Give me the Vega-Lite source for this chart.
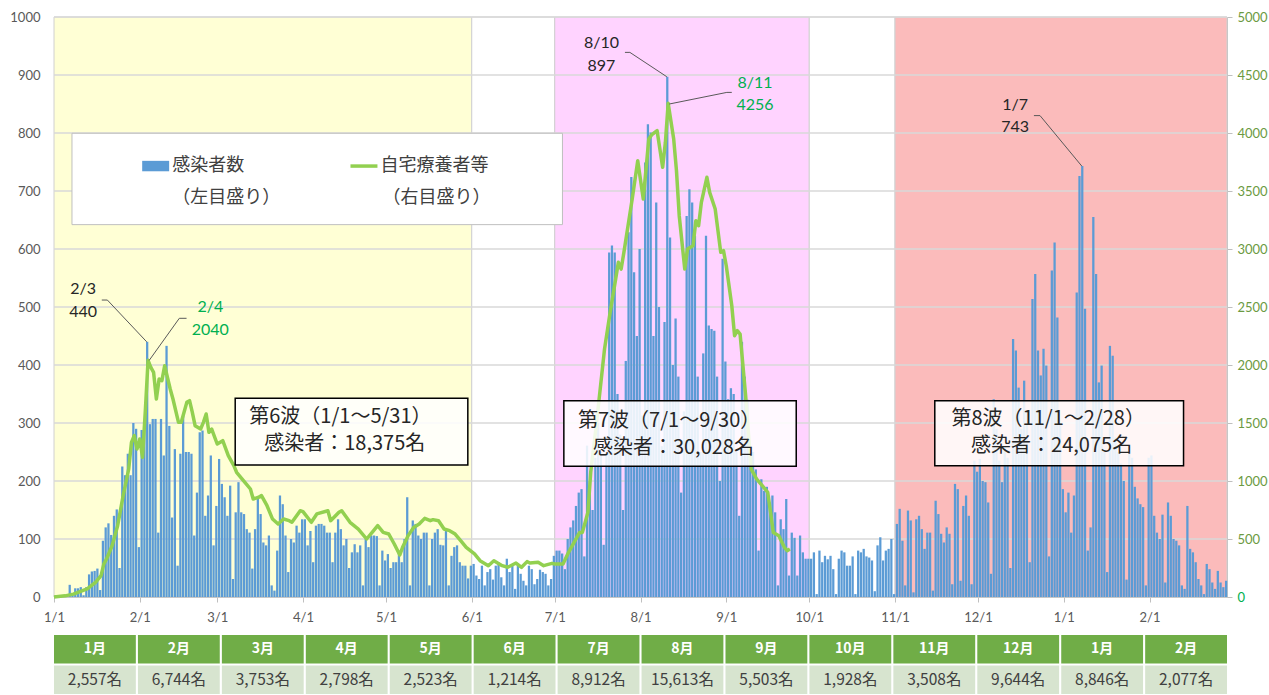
{
"$schema": "https://vega.github.io/schema/vega-lite/v6.json",
"background": "#ffffff",
"padding": {"left": 9, "top": 11, "right": 0, "bottom": 0},
"bounds": "flush",
"spacing": 38,
"resolve": {"scale": {"x": "independent", "y": "independent", "color": "independent"}},
"config": {
  "view": {"stroke": null},
  "axis": {"labelFont": "Lato", "labelFontSize": 13, "labelColor": "#595959", "domainColor": "#BFBFBF", "tickColor": "#BFBFBF", "grid": false}
},
"datasets": {
  "bands": [
    {"start": "2022-01-01", "end": "2022-06-01", "kind": "w6"},
    {"start": "2022-06-01", "end": "2022-07-01", "kind": "gap"},
    {"start": "2022-07-01", "end": "2022-10-01", "kind": "w7"},
    {"start": "2022-10-01", "end": "2022-11-01", "kind": "gap"},
    {"start": "2022-11-01", "end": "2023-03-01", "kind": "w8"}
  ],
  "grid": [{"g": 100}, {"g": 200}, {"g": 300}, {"g": 400}, {"g": 500}, {"g": 600}, {"g": 700}, {"g": 800}, {"g": 900}, {"g": 1000}],
  "daily": [
{"d":"2022-01-01","n":3},{"d":"2022-01-02","n":1},{"d":"2022-01-03","n":1},{"d":"2022-01-04","n":3},{"d":"2022-01-05","n":5},{"d":"2022-01-06","n":21},{"d":"2022-01-07","n":4},{"d":"2022-01-08","n":15},{"d":"2022-01-09","n":15},{"d":"2022-01-10","n":17},{"d":"2022-01-11","n":3},{"d":"2022-01-12","n":17},{"d":"2022-01-13","n":39},{"d":"2022-01-14","n":44},{"d":"2022-01-15","n":45},{"d":"2022-01-16","n":49},{"d":"2022-01-17","n":12},{"d":"2022-01-18","n":97},{"d":"2022-01-19","n":120},{"d":"2022-01-20","n":127},{"d":"2022-01-21","n":107},{"d":"2022-01-22","n":140},{"d":"2022-01-23","n":151},{"d":"2022-01-24","n":50},{"d":"2022-01-25","n":225},{"d":"2022-01-26","n":210},{"d":"2022-01-27","n":247},{"d":"2022-01-28","n":210},{"d":"2022-01-29","n":300},{"d":"2022-01-30","n":290},{"d":"2022-01-31","n":86},
{"d":"2022-02-01","n":288},{"d":"2022-02-02","n":298},{"d":"2022-02-03","n":440},{"d":"2022-02-04","n":298},{"d":"2022-02-05","n":307},{"d":"2022-02-06","n":307},{"d":"2022-02-07","n":111},{"d":"2022-02-08","n":307},{"d":"2022-02-09","n":244},{"d":"2022-02-10","n":433},{"d":"2022-02-11","n":295},{"d":"2022-02-12","n":137},{"d":"2022-02-13","n":255},{"d":"2022-02-14","n":54},{"d":"2022-02-15","n":247},{"d":"2022-02-16","n":313},{"d":"2022-02-17","n":250},{"d":"2022-02-18","n":250},{"d":"2022-02-19","n":247},{"d":"2022-02-20","n":106},{"d":"2022-02-21","n":180},{"d":"2022-02-22","n":284},{"d":"2022-02-23","n":287},{"d":"2022-02-24","n":140},{"d":"2022-02-25","n":175},{"d":"2022-02-26","n":244},{"d":"2022-02-27","n":89},{"d":"2022-02-28","n":157},
{"d":"2022-03-01","n":238},{"d":"2022-03-02","n":195},{"d":"2022-03-03","n":172},{"d":"2022-03-04","n":140},{"d":"2022-03-05","n":192},{"d":"2022-03-06","n":31},{"d":"2022-03-07","n":146},{"d":"2022-03-08","n":198},{"d":"2022-03-09","n":146},{"d":"2022-03-10","n":143},{"d":"2022-03-11","n":117},{"d":"2022-03-12","n":111},{"d":"2022-03-13","n":49},{"d":"2022-03-14","n":117},{"d":"2022-03-15","n":169},{"d":"2022-03-16","n":143},{"d":"2022-03-17","n":94},{"d":"2022-03-18","n":89},{"d":"2022-03-19","n":106},{"d":"2022-03-20","n":20},{"d":"2022-03-21","n":11},{"d":"2022-03-22","n":80},{"d":"2022-03-23","n":175},{"d":"2022-03-24","n":160},{"d":"2022-03-25","n":106},{"d":"2022-03-26","n":43},{"d":"2022-03-27","n":100},{"d":"2022-03-28","n":94},{"d":"2022-03-29","n":123},{"d":"2022-03-30","n":111},{"d":"2022-03-31","n":134},
{"d":"2022-04-01","n":134},{"d":"2022-04-02","n":89},{"d":"2022-04-03","n":114},{"d":"2022-04-04","n":60},{"d":"2022-04-05","n":123},{"d":"2022-04-06","n":126},{"d":"2022-04-07","n":126},{"d":"2022-04-08","n":123},{"d":"2022-04-09","n":111},{"d":"2022-04-10","n":111},{"d":"2022-04-11","n":60},{"d":"2022-04-12","n":111},{"d":"2022-04-13","n":134},{"d":"2022-04-14","n":117},{"d":"2022-04-15","n":89},{"d":"2022-04-16","n":100},{"d":"2022-04-17","n":50},{"d":"2022-04-18","n":77},{"d":"2022-04-19","n":91},{"d":"2022-04-20","n":77},{"d":"2022-04-21","n":89},{"d":"2022-04-22","n":20},{"d":"2022-04-23","n":100},{"d":"2022-04-24","n":86},{"d":"2022-04-25","n":106},{"d":"2022-04-26","n":106},{"d":"2022-04-27","n":105},{"d":"2022-04-28","n":20},{"d":"2022-04-29","n":80},{"d":"2022-04-30","n":63},
{"d":"2022-05-01","n":74},{"d":"2022-05-02","n":50},{"d":"2022-05-03","n":60},{"d":"2022-05-04","n":60},{"d":"2022-05-05","n":77},{"d":"2022-05-06","n":60},{"d":"2022-05-07","n":100},{"d":"2022-05-08","n":172},{"d":"2022-05-09","n":20},{"d":"2022-05-10","n":132},{"d":"2022-05-11","n":126},{"d":"2022-05-12","n":106},{"d":"2022-05-13","n":100},{"d":"2022-05-14","n":111},{"d":"2022-05-15","n":111},{"d":"2022-05-16","n":20},{"d":"2022-05-17","n":100},{"d":"2022-05-18","n":111},{"d":"2022-05-19","n":117},{"d":"2022-05-20","n":90},{"d":"2022-05-21","n":89},{"d":"2022-05-22","n":117},{"d":"2022-05-23","n":20},{"d":"2022-05-24","n":71},{"d":"2022-05-25","n":86},{"d":"2022-05-26","n":89},{"d":"2022-05-27","n":60},{"d":"2022-05-28","n":54},{"d":"2022-05-29","n":54},{"d":"2022-05-30","n":32},{"d":"2022-05-31","n":54},
{"d":"2022-06-01","n":57},{"d":"2022-06-02","n":37},{"d":"2022-06-03","n":31},{"d":"2022-06-04","n":54},{"d":"2022-06-05","n":20},{"d":"2022-06-06","n":43},{"d":"2022-06-07","n":48},{"d":"2022-06-08","n":30},{"d":"2022-06-09","n":54},{"d":"2022-06-10","n":60},{"d":"2022-06-11","n":34},{"d":"2022-06-12","n":20},{"d":"2022-06-13","n":66},{"d":"2022-06-14","n":43},{"d":"2022-06-15","n":54},{"d":"2022-06-16","n":14},{"d":"2022-06-17","n":54},{"d":"2022-06-18","n":40},{"d":"2022-06-19","n":28},{"d":"2022-06-20","n":20},{"d":"2022-06-21","n":54},{"d":"2022-06-22","n":48},{"d":"2022-06-23","n":22},{"d":"2022-06-24","n":31},{"d":"2022-06-25","n":47},{"d":"2022-06-26","n":43},{"d":"2022-06-27","n":40},{"d":"2022-06-28","n":20},{"d":"2022-06-29","n":31},{"d":"2022-06-30","n":71},
{"d":"2022-07-01","n":80},{"d":"2022-07-02","n":80},{"d":"2022-07-03","n":75},{"d":"2022-07-04","n":48},{"d":"2022-07-05","n":100},{"d":"2022-07-06","n":120},{"d":"2022-07-07","n":132},{"d":"2022-07-08","n":157},{"d":"2022-07-09","n":180},{"d":"2022-07-10","n":186},{"d":"2022-07-11","n":70},{"d":"2022-07-12","n":261},{"d":"2022-07-13","n":200},{"d":"2022-07-14","n":150},{"d":"2022-07-15","n":240},{"d":"2022-07-16","n":300},{"d":"2022-07-17","n":250},{"d":"2022-07-18","n":90},{"d":"2022-07-19","n":250},{"d":"2022-07-20","n":594},{"d":"2022-07-21","n":606},{"d":"2022-07-22","n":594},{"d":"2022-07-23","n":350},{"d":"2022-07-24","n":280},{"d":"2022-07-25","n":150},{"d":"2022-07-26","n":407},{"d":"2022-07-27","n":629},{"d":"2022-07-28","n":724},{"d":"2022-07-29","n":560},{"d":"2022-07-30","n":450},{"d":"2022-07-31","n":600},
{"d":"2022-08-01","n":313},{"d":"2022-08-02","n":749},{"d":"2022-08-03","n":815},{"d":"2022-08-04","n":801},{"d":"2022-08-05","n":450},{"d":"2022-08-06","n":680},{"d":"2022-08-07","n":500},{"d":"2022-08-08","n":260},{"d":"2022-08-09","n":474},{"d":"2022-08-10","n":897},{"d":"2022-08-11","n":620},{"d":"2022-08-12","n":400},{"d":"2022-08-13","n":480},{"d":"2022-08-14","n":380},{"d":"2022-08-15","n":180},{"d":"2022-08-16","n":320},{"d":"2022-08-17","n":657},{"d":"2022-08-18","n":703},{"d":"2022-08-19","n":680},{"d":"2022-08-20","n":623},{"d":"2022-08-21","n":380},{"d":"2022-08-22","n":250},{"d":"2022-08-23","n":420},{"d":"2022-08-24","n":623},{"d":"2022-08-25","n":468},{"d":"2022-08-26","n":462},{"d":"2022-08-27","n":459},{"d":"2022-08-28","n":380},{"d":"2022-08-29","n":200},{"d":"2022-08-30","n":583},{"d":"2022-08-31","n":406},
{"d":"2022-09-01","n":341},{"d":"2022-09-02","n":360},{"d":"2022-09-03","n":350},{"d":"2022-09-04","n":250},{"d":"2022-09-05","n":140},{"d":"2022-09-06","n":440},{"d":"2022-09-07","n":380},{"d":"2022-09-08","n":340},{"d":"2022-09-09","n":260},{"d":"2022-09-10","n":250},{"d":"2022-09-11","n":220},{"d":"2022-09-12","n":80},{"d":"2022-09-13","n":203},{"d":"2022-09-14","n":183},{"d":"2022-09-15","n":190},{"d":"2022-09-16","n":163},{"d":"2022-09-17","n":175},{"d":"2022-09-18","n":146},{"d":"2022-09-19","n":20},{"d":"2022-09-20","n":134},{"d":"2022-09-21","n":117},{"d":"2022-09-22","n":169},{"d":"2022-09-23","n":37},{"d":"2022-09-24","n":111},{"d":"2022-09-25","n":102},{"d":"2022-09-26","n":37},{"d":"2022-09-27","n":106},{"d":"2022-09-28","n":77},{"d":"2022-09-29","n":66},{"d":"2022-09-30","n":66},
{"d":"2022-10-01","n":66},{"d":"2022-10-02","n":77},{"d":"2022-10-03","n":5},{"d":"2022-10-04","n":80},{"d":"2022-10-05","n":60},{"d":"2022-10-06","n":71},{"d":"2022-10-07","n":65},{"d":"2022-10-08","n":71},{"d":"2022-10-09","n":48},{"d":"2022-10-10","n":5},{"d":"2022-10-11","n":66},{"d":"2022-10-12","n":80},{"d":"2022-10-13","n":77},{"d":"2022-10-14","n":54},{"d":"2022-10-15","n":54},{"d":"2022-10-16","n":70},{"d":"2022-10-17","n":5},{"d":"2022-10-18","n":80},{"d":"2022-10-19","n":77},{"d":"2022-10-20","n":83},{"d":"2022-10-21","n":70},{"d":"2022-10-22","n":68},{"d":"2022-10-23","n":63},{"d":"2022-10-24","n":10},{"d":"2022-10-25","n":89},{"d":"2022-10-26","n":103},{"d":"2022-10-27","n":63},{"d":"2022-10-28","n":80},{"d":"2022-10-29","n":83},{"d":"2022-10-30","n":100},{"d":"2022-10-31","n":5},
{"d":"2022-11-01","n":126},{"d":"2022-11-02","n":152},{"d":"2022-11-03","n":97},{"d":"2022-11-04","n":20},{"d":"2022-11-05","n":149},{"d":"2022-11-06","n":132},{"d":"2022-11-07","n":8},{"d":"2022-11-08","n":134},{"d":"2022-11-09","n":140},{"d":"2022-11-10","n":117},{"d":"2022-11-11","n":83},{"d":"2022-11-12","n":111},{"d":"2022-11-13","n":111},{"d":"2022-11-14","n":11},{"d":"2022-11-15","n":166},{"d":"2022-11-16","n":143},{"d":"2022-11-17","n":109},{"d":"2022-11-18","n":94},{"d":"2022-11-19","n":120},{"d":"2022-11-20","n":109},{"d":"2022-11-21","n":22},{"d":"2022-11-22","n":195},{"d":"2022-11-23","n":186},{"d":"2022-11-24","n":28},{"d":"2022-11-25","n":157},{"d":"2022-11-26","n":175},{"d":"2022-11-27","n":140},{"d":"2022-11-28","n":22},{"d":"2022-11-29","n":235},{"d":"2022-11-30","n":216},
{"d":"2022-12-01","n":238},{"d":"2022-12-02","n":200},{"d":"2022-12-03","n":198},{"d":"2022-12-04","n":163},{"d":"2022-12-05","n":40},{"d":"2022-12-06","n":341},{"d":"2022-12-07","n":290},{"d":"2022-12-08","n":235},{"d":"2022-12-09","n":198},{"d":"2022-12-10","n":260},{"d":"2022-12-11","n":240},{"d":"2022-12-12","n":50},{"d":"2022-12-13","n":445},{"d":"2022-12-14","n":425},{"d":"2022-12-15","n":361},{"d":"2022-12-16","n":290},{"d":"2022-12-17","n":373},{"d":"2022-12-18","n":320},{"d":"2022-12-19","n":60},{"d":"2022-12-20","n":514},{"d":"2022-12-21","n":557},{"d":"2022-12-22","n":425},{"d":"2022-12-23","n":382},{"d":"2022-12-24","n":428},{"d":"2022-12-25","n":399},{"d":"2022-12-26","n":70},{"d":"2022-12-27","n":563},{"d":"2022-12-28","n":611},{"d":"2022-12-29","n":482},{"d":"2022-12-30","n":300},{"d":"2022-12-31","n":186},
{"d":"2023-01-01","n":146},{"d":"2023-01-02","n":180},{"d":"2023-01-03","n":111},{"d":"2023-01-04","n":175},{"d":"2023-01-05","n":525},{"d":"2023-01-06","n":726},{"d":"2023-01-07","n":743},{"d":"2023-01-08","n":497},{"d":"2023-01-09","n":80},{"d":"2023-01-10","n":120},{"d":"2023-01-11","n":655},{"d":"2023-01-12","n":557},{"d":"2023-01-13","n":370},{"d":"2023-01-14","n":399},{"d":"2023-01-15","n":250},{"d":"2023-01-16","n":43},{"d":"2023-01-17","n":433},{"d":"2023-01-18","n":416},{"d":"2023-01-19","n":275},{"d":"2023-01-20","n":250},{"d":"2023-01-21","n":230},{"d":"2023-01-22","n":200},{"d":"2023-01-23","n":30},{"d":"2023-01-24","n":260},{"d":"2023-01-25","n":240},{"d":"2023-01-26","n":190},{"d":"2023-01-27","n":170},{"d":"2023-01-28","n":160},{"d":"2023-01-29","n":155},{"d":"2023-01-30","n":20},{"d":"2023-01-31","n":240},
{"d":"2023-02-01","n":244},{"d":"2023-02-02","n":140},{"d":"2023-02-03","n":111},{"d":"2023-02-04","n":100},{"d":"2023-02-05","n":142},{"d":"2023-02-06","n":25},{"d":"2023-02-07","n":163},{"d":"2023-02-08","n":140},{"d":"2023-02-09","n":100},{"d":"2023-02-10","n":97},{"d":"2023-02-11","n":89},{"d":"2023-02-12","n":20},{"d":"2023-02-13","n":14},{"d":"2023-02-14","n":157},{"d":"2023-02-15","n":83},{"d":"2023-02-16","n":77},{"d":"2023-02-17","n":60},{"d":"2023-02-18","n":31},{"d":"2023-02-19","n":20},{"d":"2023-02-20","n":5},{"d":"2023-02-21","n":57},{"d":"2023-02-22","n":48},{"d":"2023-02-23","n":25},{"d":"2023-02-24","n":14},{"d":"2023-02-25","n":45},{"d":"2023-02-26","n":25},{"d":"2023-02-27","n":17},{"d":"2023-02-28","n":28}
  ],
  "home": [
{"d":"2022-01-01","v":0},{"d":"2022-01-05","v":10},{"d":"2022-01-08","v":25},{"d":"2022-01-13","v":70},{"d":"2022-01-16","v":126},{"d":"2022-01-18","v":184},{"d":"2022-01-19","v":284},{"d":"2022-01-20","v":328},{"d":"2022-01-22","v":442},{"d":"2022-01-24","v":615},{"d":"2022-01-26","v":874},{"d":"2022-01-28","v":1103},{"d":"2022-01-29","v":1333},{"d":"2022-01-30","v":1391},{"d":"2022-01-31","v":1276},{"d":"2022-02-01","v":1362},{"d":"2022-02-02","v":1204},{"d":"2022-02-03","v":1600},{"d":"2022-02-04","v":2040},{"d":"2022-02-05","v":1980},{"d":"2022-02-06","v":1937},{"d":"2022-02-07","v":1707},{"d":"2022-02-08","v":1879},{"d":"2022-02-09","v":1865},{"d":"2022-02-10","v":1994},{"d":"2022-02-12","v":1793},{"d":"2022-02-13","v":1707},{"d":"2022-02-15","v":1506},{"d":"2022-02-16","v":1506},{"d":"2022-02-18","v":1678},{"d":"2022-02-19","v":1693},{"d":"2022-02-20","v":1592},{"d":"2022-02-21","v":1477},{"d":"2022-02-23","v":1448},{"d":"2022-02-24","v":1506},{"d":"2022-02-25","v":1578},{"d":"2022-02-26","v":1420},{"d":"2022-02-27","v":1448},{"d":"2022-03-01","v":1319},{"d":"2022-03-03","v":1348},{"d":"2022-03-05","v":1218},{"d":"2022-03-07","v":1132},{"d":"2022-03-08","v":1075},{"d":"2022-03-11","v":989},{"d":"2022-03-13","v":931},{"d":"2022-03-14","v":845},{"d":"2022-03-16","v":860},{"d":"2022-03-17","v":874},{"d":"2022-03-19","v":787},{"d":"2022-03-21","v":672},{"d":"2022-03-23","v":629},{"d":"2022-03-25","v":672},{"d":"2022-03-27","v":658},{"d":"2022-03-28","v":644},{"d":"2022-03-31","v":744},{"d":"2022-04-01","v":736},{"d":"2022-04-04","v":644},{"d":"2022-04-06","v":716},{"d":"2022-04-10","v":744},{"d":"2022-04-11","v":658},{"d":"2022-04-14","v":730},{"d":"2022-04-15","v":744},{"d":"2022-04-18","v":644},{"d":"2022-04-21","v":586},{"d":"2022-04-24","v":500},{"d":"2022-04-26","v":557},{"d":"2022-04-28","v":615},{"d":"2022-04-30","v":557},{"d":"2022-05-02","v":543},{"d":"2022-05-04","v":457},{"d":"2022-05-06","v":362},{"d":"2022-05-07","v":428},{"d":"2022-05-09","v":529},{"d":"2022-05-11","v":600},{"d":"2022-05-13","v":629},{"d":"2022-05-15","v":678},{"d":"2022-05-17","v":658},{"d":"2022-05-18","v":667},{"d":"2022-05-20","v":658},{"d":"2022-05-22","v":586},{"d":"2022-05-24","v":572},{"d":"2022-05-26","v":543},{"d":"2022-05-28","v":486},{"d":"2022-05-30","v":428},{"d":"2022-06-02","v":371},{"d":"2022-06-04","v":313},{"d":"2022-06-07","v":270},{"d":"2022-06-09","v":313},{"d":"2022-06-12","v":270},{"d":"2022-06-14","v":256},{"d":"2022-06-17","v":293},{"d":"2022-06-19","v":256},{"d":"2022-06-21","v":305},{"d":"2022-06-22","v":293},{"d":"2022-06-25","v":299},{"d":"2022-06-27","v":270},{"d":"2022-06-30","v":290},{"d":"2022-07-01","v":284},{"d":"2022-07-04","v":284},{"d":"2022-07-06","v":385},{"d":"2022-07-08","v":471},{"d":"2022-07-10","v":557},{"d":"2022-07-11","v":557},{"d":"2022-07-13","v":730},{"d":"2022-07-14","v":1075},{"d":"2022-07-16","v":1477},{"d":"2022-07-19","v":2138},{"d":"2022-07-21","v":2450},{"d":"2022-07-23","v":2738},{"d":"2022-07-24","v":2885},{"d":"2022-07-25","v":2827},{"d":"2022-07-26","v":2971},{"d":"2022-07-29","v":3431},{"d":"2022-07-31","v":3761},{"d":"2022-08-02","v":3431},{"d":"2022-08-04","v":3948},{"d":"2022-08-05","v":3983},{"d":"2022-08-07","v":4020},{"d":"2022-08-09","v":3704},{"d":"2022-08-10","v":3920},{"d":"2022-08-11","v":4256},{"d":"2022-08-13","v":3948},{"d":"2022-08-14","v":3675},{"d":"2022-08-15","v":3287},{"d":"2022-08-17","v":2828},{"d":"2022-08-18","v":3000},{"d":"2022-08-20","v":3029},{"d":"2022-08-21","v":3244},{"d":"2022-08-22","v":3201},{"d":"2022-08-23","v":3402},{"d":"2022-08-25","v":3618},{"d":"2022-08-26","v":3488},{"d":"2022-08-28","v":3345},{"d":"2022-08-30","v":2971},{"d":"2022-08-31","v":2986},{"d":"2022-09-01","v":2856},{"d":"2022-09-03","v":2511},{"d":"2022-09-04","v":2253},{"d":"2022-09-05","v":2296},{"d":"2022-09-06","v":2267},{"d":"2022-09-08","v":1736},{"d":"2022-09-10","v":1103},{"d":"2022-09-12","v":1017},{"d":"2022-09-14","v":960},{"d":"2022-09-16","v":902},{"d":"2022-09-17","v":730},{"d":"2022-09-18","v":557},{"d":"2022-09-20","v":529},{"d":"2022-09-22","v":428},{"d":"2022-09-23","v":399},{"d":"2022-09-24","v":414}
  ],
  "legbox": [{"a": "2022-01-07T12:00:00Z", "b": "2022-07-03T19:00:00Z", "lo": 642, "hi": 799.5}],
  "legswatch": [{"a": "2022-02-01T21:00:00Z", "b": "2022-02-11T15:00:00Z", "lo": 734, "hi": 752}],
  "legline": [{"a": "2022-04-18T04:00:00Z", "b": "2022-04-27T22:00:00Z", "y": 743}],
  "legleft": [{"x": "2022-02-12T17:00:00Z", "y": 743, "t": "感染者数"}, {"x": "2022-04-29T00:00:00Z", "y": 743, "t": "自宅療養者等"}],
  "legcenter": [{"x": "2022-03-04T07:00:00Z", "y": 688, "t": "（左目盛り）"}, {"x": "2022-05-19T07:00:00Z", "y": 688, "t": "（右目盛り）"}],
  "boxes": [
    {"a": "2022-03-07T12:00:00Z", "b": "2022-05-30T14:00:00Z", "lo": 227.6, "hi": 342.6},
    {"a": "2022-07-04T07:00:00Z", "b": "2022-09-26T07:00:00Z", "lo": 225.3, "hi": 338.4},
    {"a": "2022-11-15T09:00:00Z", "b": "2023-02-13T07:00:00Z", "lo": 226.4, "hi": 338.4}
  ],
  "boxtext": [
    {"x": "2022-03-12T14:00:00Z", "y": 310, "t": "第6波（1/1～5/31）"},
    {"x": "2022-03-18T00:00:00Z", "y": 264, "t": "感染者：18,375名"},
    {"x": "2022-07-09T10:00:00Z", "y": 304, "t": "第7波（7/1～9/30）"},
    {"x": "2022-07-14T19:00:00Z", "y": 257, "t": "感染者：30,028名"},
    {"x": "2022-11-21T10:00:00Z", "y": 307, "t": "第8波（11/1～2/28）"},
    {"x": "2022-11-28T12:00:00Z", "y": 261, "t": "感染者：24,075名"}
  ],
  "leaders": [
    {"a": "2022-01-18T06:30:00Z", "b": "2022-01-20T07:00:00Z", "y": 512, "y2": 512},
    {"a": "2022-01-20T07:00:00Z", "b": "2022-02-03T12:00:00Z", "y": 512, "y2": 440},
    {"a": "2022-02-15T07:00:00Z", "b": "2022-02-17T22:00:00Z", "y": 480.5, "y2": 480.5},
    {"a": "2022-02-15T07:00:00Z", "b": "2022-02-04T10:00:00Z", "y": 480.5, "y2": 408},
    {"a": "2022-07-26T09:00:00Z", "b": "2022-07-28T04:00:00Z", "y": 939, "y2": 939},
    {"a": "2022-07-28T04:00:00Z", "b": "2022-08-10T12:00:00Z", "y": 939, "y2": 897},
    {"a": "2022-09-01T05:00:00Z", "b": "2022-09-03T00:00:00Z", "y": 870, "y2": 870},
    {"a": "2022-09-01T05:00:00Z", "b": "2022-08-11T10:00:00Z", "y": 870, "y2": 850},
    {"a": "2022-12-21T05:00:00Z", "b": "2022-12-23T10:00:00Z", "y": 830, "y2": 830},
    {"a": "2022-12-23T10:00:00Z", "b": "2023-01-07T12:00:00Z", "y": 830, "y2": 743}
  ],
  "annblack": [
    {"x": "2022-01-11T12:00:00Z", "y": 531, "t": "2/3"},
    {"x": "2022-01-11T12:00:00Z", "y": 492, "t": "440"},
    {"x": "2022-07-17T21:00:00Z", "y": 956, "t": "8/10"},
    {"x": "2022-07-17T21:00:00Z", "y": 916, "t": "897"},
    {"x": "2022-12-14T10:00:00Z", "y": 848, "t": "1/7"},
    {"x": "2022-12-14T10:00:00Z", "y": 810, "t": "743"}
  ],
  "anngreen": [
    {"x": "2022-02-26T12:00:00Z", "y": 500, "t": "2/4"},
    {"x": "2022-02-26T12:00:00Z", "y": 460, "t": "2040"},
    {"x": "2022-09-11T10:00:00Z", "y": 887, "t": "8/11"},
    {"x": "2022-09-11T10:00:00Z", "y": 848, "t": "4256"}
  ],
  "table": [
    {"k": "2022-01", "m": "1月", "c": "2,557名"},
    {"k": "2022-02", "m": "2月", "c": "6,744名"},
    {"k": "2022-03", "m": "3月", "c": "3,753名"},
    {"k": "2022-04", "m": "4月", "c": "2,798名"},
    {"k": "2022-05", "m": "5月", "c": "2,523名"},
    {"k": "2022-06", "m": "6月", "c": "1,214名"},
    {"k": "2022-07", "m": "7月", "c": "8,912名"},
    {"k": "2022-08", "m": "8月", "c": "15,613名"},
    {"k": "2022-09", "m": "9月", "c": "5,503名"},
    {"k": "2022-10", "m": "10月", "c": "1,928名"},
    {"k": "2022-11", "m": "11月", "c": "3,508名"},
    {"k": "2022-12", "m": "12月", "c": "9,644名"},
    {"k": "2023-01", "m": "1月", "c": "8,846名"},
    {"k": "2023-02", "m": "2月", "c": "2,077名"}
  ]
},
"vconcat": [
  {
    "width": 1173,
    "height": 580,
    "resolve": {"scale": {"y": "independent"}},
    "layer": [
      {
        "layer": [
          {
            "data": {"name": "bands"},
            "mark": {"type": "rect", "stroke": "#D0D0D0", "strokeWidth": 1},
            "encoding": {
              "x": {"field": "start", "type": "temporal", "title": null, "scale": {"type": "utc", "domain": [{"year": 2022, "month": 1, "date": 1, "utc": true}, {"year": 2023, "month": 3, "date": 1, "utc": true}]}},
              "x2": {"field": "end"},
              "color": {"field": "kind", "type": "nominal", "legend": null, "scale": {"domain": ["w6", "gap", "w7", "w8"], "range": ["#FFFFD5", "#FFFFFF", "#FFD3FF", "#FBBBBB"]}}
            }
          },
          {
            "data": {"name": "grid"},
            "mark": {"type": "rule", "color": "#D9D9D9", "strokeWidth": 1.3},
            "encoding": {"y": {"field": "g", "type": "quantitative", "title": null}}
          },
          {
            "data": {"name": "daily"},
            "mark": {"type": "bar", "color": "#5B9BD5", "binSpacing": 0.5},
            "encoding": {
              "x": {"field": "d", "type": "temporal", "timeUnit": "utcyearmonthdate", "title": null,
                "scale": {"type": "utc", "domain": [{"year": 2022, "month": 1, "date": 1, "utc": true}, {"year": 2023, "month": 3, "date": 1, "utc": true}]},
                "axis": {"format": "%-m/%-d", "tickSize": 5, "labelPadding": 9, "labelFlush": false, "labelOverlap": false,
                  "values": [
                    {"year": 2022, "month": 1, "date": 1, "utc": true}, {"year": 2022, "month": 2, "date": 1, "utc": true}, {"year": 2022, "month": 3, "date": 1, "utc": true}, {"year": 2022, "month": 4, "date": 1, "utc": true}, {"year": 2022, "month": 5, "date": 1, "utc": true}, {"year": 2022, "month": 6, "date": 1, "utc": true}, {"year": 2022, "month": 7, "date": 1, "utc": true}, {"year": 2022, "month": 8, "date": 1, "utc": true}, {"year": 2022, "month": 9, "date": 1, "utc": true}, {"year": 2022, "month": 10, "date": 1, "utc": true}, {"year": 2022, "month": 11, "date": 1, "utc": true}, {"year": 2022, "month": 12, "date": 1, "utc": true}, {"year": 2023, "month": 1, "date": 1, "utc": true}, {"year": 2023, "month": 2, "date": 1, "utc": true}
                  ]}},
              "y": {"field": "n", "type": "quantitative", "title": null, "scale": {"domain": [0, 1000], "nice": false},
                "axis": {"format": "d", "values": [0, 100, 200, 300, 400, 500, 600, 700, 800, 900, 1000], "ticks": false, "labelPadding": 14, "domainColor": "#D9D9D9"}}
            }
          }
        ]
      },
      {
        "data": {"name": "home"},
        "mark": {"type": "line", "color": "#92D050", "strokeWidth": 3.5, "strokeJoin": "round", "timeUnitBandPosition": 0.5},
        "encoding": {
          "x": {"field": "d", "type": "temporal", "timeUnit": "utcyearmonthdate", "title": null, "scale": {"type": "utc", "domain": [{"year": 2022, "month": 1, "date": 1, "utc": true}, {"year": 2023, "month": 3, "date": 1, "utc": true}]}},
          "y": {"field": "v", "type": "quantitative", "title": null, "scale": {"domain": [0, 5000], "nice": false},
            "axis": {"orient": "right", "format": "d", "values": [0, 500, 1000, 1500, 2000, 2500, 3000, 3500, 4000, 4500, 5000], "tickSize": 5, "labelPadding": 5,
              "labelColor": {"condition": {"test": "datum.value === 0", "value": "#00B050"}, "value": "#6B9A42"}}}
        }
      },
      {
        "layer": [
          {
            "data": {"name": "legbox"},
            "mark": {"type": "rect", "fill": "#FFFFFF", "stroke": "#BFBFBF", "strokeWidth": 1},
            "encoding": {
              "x": {"field": "a", "type": "temporal", "title": null, "scale": {"type": "utc"}},
              "x2": {"field": "b"},
              "y": {"field": "lo", "type": "quantitative", "title": null, "axis": null, "scale": {"domain": [0, 1000], "nice": false}},
              "y2": {"field": "hi"}
            }
          },
          {
            "data": {"name": "legswatch"},
            "mark": {"type": "rect", "fill": "#5B9BD5"},
            "encoding": {
              "x": {"field": "a", "type": "temporal", "title": null, "scale": {"type": "utc"}},
              "x2": {"field": "b"},
              "y": {"field": "lo", "type": "quantitative", "title": null, "axis": null},
              "y2": {"field": "hi"}
            }
          },
          {
            "data": {"name": "legline"},
            "mark": {"type": "rule", "color": "#92D050", "strokeWidth": 3.5},
            "encoding": {
              "x": {"field": "a", "type": "temporal", "title": null, "scale": {"type": "utc"}},
              "x2": {"field": "b"},
              "y": {"field": "y", "type": "quantitative", "title": null, "axis": null}
            }
          },
          {
            "data": {"name": "legleft"},
            "mark": {"type": "text", "align": "left", "baseline": "middle", "font": "Noto Sans CJK JP", "fontSize": 18, "color": "#404040"},
            "encoding": {
              "x": {"field": "x", "type": "temporal", "title": null, "scale": {"type": "utc"}},
              "y": {"field": "y", "type": "quantitative", "title": null, "axis": null},
              "text": {"field": "t"}
            }
          },
          {
            "data": {"name": "legcenter"},
            "mark": {"type": "text", "align": "center", "baseline": "middle", "font": "Noto Sans CJK JP", "fontSize": 18, "color": "#404040"},
            "encoding": {
              "x": {"field": "x", "type": "temporal", "title": null, "scale": {"type": "utc"}},
              "y": {"field": "y", "type": "quantitative", "title": null, "axis": null},
              "text": {"field": "t"}
            }
          },
          {
            "data": {"name": "boxes"},
            "mark": {"type": "rect", "fill": "#FFFFFF", "fillOpacity": 0.86, "stroke": "#000000", "strokeWidth": 1.5},
            "encoding": {
              "x": {"field": "a", "type": "temporal", "title": null, "scale": {"type": "utc"}},
              "x2": {"field": "b"},
              "y": {"field": "lo", "type": "quantitative", "title": null, "axis": null},
              "y2": {"field": "hi"}
            }
          },
          {
            "data": {"name": "boxtext"},
            "mark": {"type": "text", "align": "left", "baseline": "middle", "font": "Noto Sans CJK JP", "fontSize": 20, "color": "#262626"},
            "encoding": {
              "x": {"field": "x", "type": "temporal", "title": null, "scale": {"type": "utc"}},
              "y": {"field": "y", "type": "quantitative", "title": null, "axis": null},
              "text": {"field": "t"}
            }
          },
          {
            "data": {"name": "leaders"},
            "mark": {"type": "rule", "color": "#595959", "strokeWidth": 1},
            "encoding": {
              "x": {"field": "a", "type": "temporal", "title": null, "scale": {"type": "utc"}},
              "x2": {"field": "b"},
              "y": {"field": "y", "type": "quantitative", "title": null, "axis": null},
              "y2": {"field": "y2"}
            }
          },
          {
            "data": {"name": "annblack"},
            "mark": {"type": "text", "align": "center", "baseline": "middle", "font": "Lato", "fontSize": 16, "color": "#262626"},
            "encoding": {
              "x": {"field": "x", "type": "temporal", "title": null, "scale": {"type": "utc"}},
              "y": {"field": "y", "type": "quantitative", "title": null, "axis": null},
              "text": {"field": "t"}
            }
          },
          {
            "data": {"name": "anngreen"},
            "mark": {"type": "text", "align": "center", "baseline": "middle", "font": "Lato", "fontSize": 16, "color": "#00B050"},
            "encoding": {
              "x": {"field": "x", "type": "temporal", "title": null, "scale": {"type": "utc"}},
              "y": {"field": "y", "type": "quantitative", "title": null, "axis": null},
              "text": {"field": "t"}
            }
          }
        ]
      }
    ]
  },
  {
    "width": 1173,
    "height": 59,
    "data": {"name": "table"},
    "layer": [
      {
        "mark": {"type": "rect", "color": "#70AD47"},
        "encoding": {
          "x": {"field": "k", "type": "ordinal", "title": null, "axis": null, "scale": {"paddingInner": 0.025, "paddingOuter": 0}},
          "y": {"datum": "h", "type": "ordinal", "title": null, "axis": null, "scale": {"domain": ["h", "c"], "paddingInner": 0.07, "paddingOuter": 0}}
        }
      },
      {
        "mark": {"type": "rect", "color": "#D7E4CF"},
        "encoding": {
          "x": {"field": "k", "type": "ordinal", "title": null, "axis": null},
          "y": {"datum": "c", "type": "ordinal", "title": null, "axis": null}
        }
      },
      {
        "mark": {"type": "text", "color": "#FFFFFF", "fontWeight": "bold", "fontSize": 14, "font": "Noto Sans CJK JP"},
        "encoding": {
          "x": {"field": "k", "type": "ordinal", "title": null, "axis": null},
          "y": {"datum": "h", "type": "ordinal", "title": null, "axis": null},
          "text": {"field": "m"}
        }
      },
      {
        "mark": {"type": "text", "color": "#404040", "fontSize": 15.5, "font": "Noto Sans CJK JP"},
        "encoding": {
          "x": {"field": "k", "type": "ordinal", "title": null, "axis": null},
          "y": {"datum": "c", "type": "ordinal", "title": null, "axis": null},
          "text": {"field": "c"}
        }
      }
    ]
  }
]
}
